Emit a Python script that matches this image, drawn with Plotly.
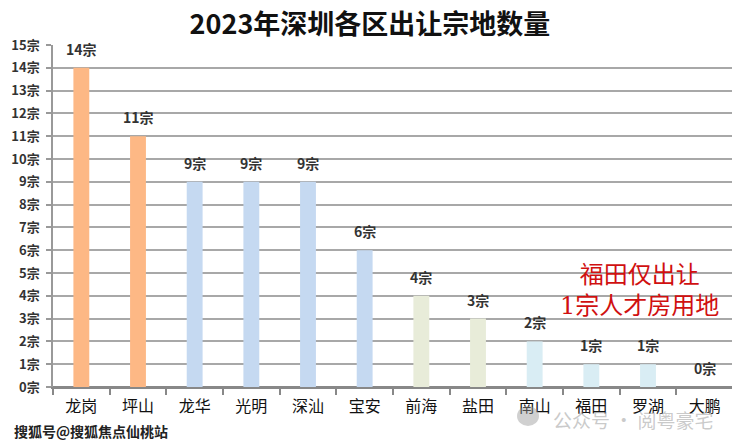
import plotly.graph_objects as go

# 2023年深圳各区出让宗地数量
districts = ["龙岗", "坪山", "龙华", "光明", "深汕", "宝安", "前海", "盐田", "南山", "福田", "罗湖", "大鹏"]
counts = [14, 11, 9, 9, 9, 6, 4, 3, 2, 1, 1, 0]
y_ticks = list(range(0, 16))
y_tick_labels = [f"{v}宗" for v in y_ticks]

# 颜色分组
orange = "#FDB885"
blue = "#C5D9F1"
green = "#E8ECD9"
light_blue = "#D9EDF4"
bar_colors = [orange, orange, blue, blue, blue, blue, green, green,
              light_blue, light_blue, light_blue, light_blue]

cjk = "Noto Sans CJK SC"

fig = go.Figure()
fig.add_trace(go.Bar(
    x=districts,
    y=counts,
    marker=dict(color=bar_colors, line=dict(width=0)),
    hoverinfo="x+y",
))

# 柱顶标签
for d, c in zip(districts, counts):
    fig.add_annotation(
        x=d, y=c, text=f"{c}宗", showarrow=False,
        yanchor="bottom", yshift=7,
        font=dict(family=cjk, size=14, color="#333333", weight="bold"),
    )

# 红色说明文字
fig.add_annotation(
    xref="paper", yref="paper", x=0.862, y=0.281,
    text="福田仅出让<br>1宗人才房用地", showarrow=False,
    align="center", xanchor="center", yanchor="middle",
    font=dict(family="DejaVu Serif, " + cjk, size=24, color="#D01010"),
)

# 水印
fig.add_annotation(
    xref="paper", yref="paper", x=0.854, y=-0.095,
    text="公众号 · 阅粤豪宅", showarrow=False,
    xanchor="center", yanchor="middle",
    font=dict(family=cjk, size=19, color="rgba(150,150,150,0.5)"),
)
fig.add_shape(
    type="circle", xref="paper", yref="paper",
    x0=(517 - 53) / 680, x1=(539 - 53) / 680,
    y0=(387 - 426) / 342, y1=(387 - 406) / 342,
    fillcolor="rgba(150,150,150,0.45)", line=dict(width=0),
)
fig.add_annotation(
    xref="paper", yref="paper", x=-0.060, y=-0.129,
    text="搜狐号@搜狐焦点仙桃站", showarrow=False,
    xanchor="left", yanchor="middle",
    font=dict(family=cjk, size=14, color="#222222", weight="bold"),
)

# 页面 body 有 8px 边距，尺寸相应缩小
fig.update_layout(
    width=732, height=435,
    margin=dict(l=45, r=7, t=37, b=56),
    paper_bgcolor="white",
    plot_bgcolor="white",
    bargap=0.72,
    showlegend=False,
    title=dict(
        text="2023年深圳各区出让宗地数量",
        x=0.4945, xanchor="center", xref="container",
        y=0.962, yanchor="middle",
        font=dict(family=cjk, size=27, color="#111111", weight="bold"),
    ),
    xaxis=dict(
        showgrid=False,
        showline=True, linecolor="#888888", linewidth=1.5,
        ticks="outside", tickson="boundaries", ticklen=6,
        tickcolor="#888888", tickwidth=1.5,
        ticklabelstandoff=4,
        tickfont=dict(family=cjk, size=16, color="#111111"),
        automargin=False,
        fixedrange=True,
    ),
    yaxis=dict(
        range=[0, 15],
        tickvals=y_ticks, ticktext=y_tick_labels,
        showgrid=True, gridcolor="#A8A8A8", gridwidth=1.5,
        showline=True, linecolor="#999999", linewidth=1.5,
        zeroline=True, zerolinecolor="#888888", zerolinewidth=1.5,
        ticks="outside", ticklen=5, tickcolor="#999999", tickwidth=1.5,
        ticklabelstandoff=4,
        tickfont=dict(family=cjk, size=13, color="#333333", weight="bold"),
        automargin=False,
        fixedrange=True,
    ),
)

fig.write_html("out.html")
